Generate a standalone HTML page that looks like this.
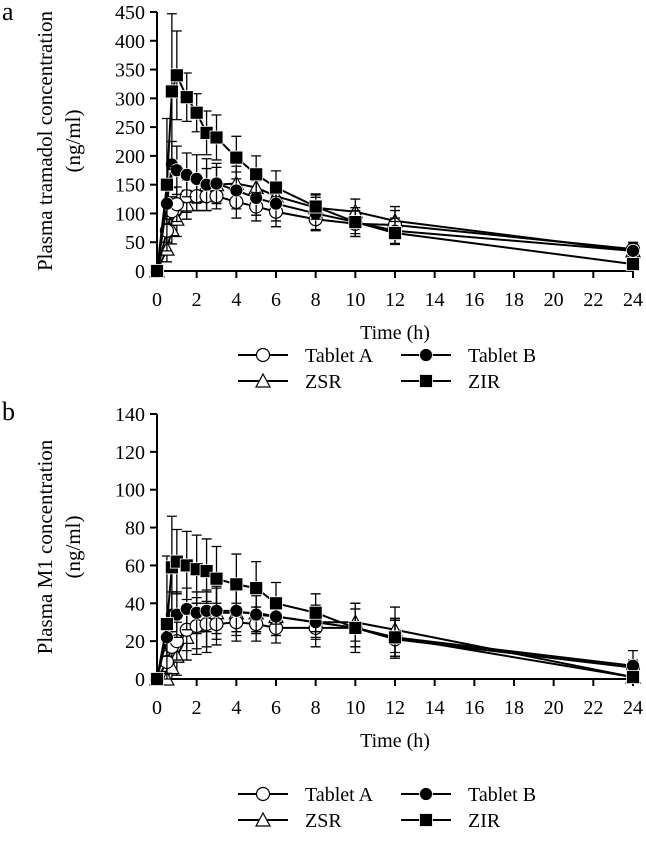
<!DOCTYPE html>
<html><head><meta charset="utf-8"><style>
body{margin:0;background:#fff;}
svg{display:block;font-family:"Liberation Serif",serif;}
</style></head><body>
<svg id="fig" width="646" height="855" viewBox="0 0 646 855"></svg>
<script>
const times=[0,0.5,0.75,1,1.5,2,2.5,3,4,5,6,8,10,12,24];
const xTicks=[0,2,4,6,8,10,12,14,16,18,20,22,24];
// Panel a: tramadol
const aTabA=[0,70,104,116,130,130,130,130,120,112,103,90,82,80,38];
const aTabB=[0,117,185,175,167,160,150,152,140,127,117,100,85,70,35];
const aZSR=[0,38,72,90,115,130,150,150,152,145,130,110,103,87,35];
const aZIR=[0,150,312,340,302,275,240,232,197,168,145,112,85,66,12];
const aSdA=[0,20,25,30,28,25,25,22,28,25,26,20,22,25,12];
const aSdB=[0,35,40,42,38,42,45,35,32,30,30,28,25,22,12];
const aSdZSR=[0,22,25,30,25,25,28,30,30,25,25,22,22,25,10];
const aSdZIR=[0,115,135,77,42,33,38,39,37,32,29,22,20,20,5];
const aYTicks=[0,50,100,150,200,250,300,350,400,450];
// Panel b: M1
const bTabA=[0,9,17,20,26,28,29,29,30,29,27,27,27,21,6];
const bTabB=[0,22,34,34,37,35,36,36,36,34,33,30,27,22,7];
const bZSR=[0,0,6,12,22,28,30,35,35,35,33,30,30,26,1];
const bZIR=[0,29,59,62,60,58,57,53,50,48,40,35,27,22,1];
const bSdA=[0,6,8,10,11,12,12,11,10,9,8,10,10,10,4];
const bSdB=[0,10,12,12,11,11,11,12,11,10,10,9,10,10,8];
const bSdZSR=[0,4,8,10,12,15,16,14,12,10,10,8,10,12,2];
const bSdZIR=[0,36,27,17,18,18,17,17,16,14,11,10,13,10,1];
const bYTicks=[0,20,40,60,80,100,120,140];

const NS="http://www.w3.org/2000/svg";
const svg=document.getElementById('fig');
function mk(t,a,p){const e=document.createElementNS(NS,t);for(const k in a)e.setAttribute(k,a[k]);(p||svg).appendChild(e);return e;}

function panel(cfg){
  const g=mk('g',{});
  
  
  const x0=157,x1=633;
  const X=t=>x0+(x1-x0)*t/24;
  const Y=v=>cfg.y0-(cfg.y0-cfg.yTop)*v/cfg.yMax;
  const ax=mk('path',{d:`M${x0},${cfg.yTop} V${cfg.y0} H${x1}`,stroke:'#000','stroke-width':2,fill:'none'},g);
  
  
  cfg.yTicks.forEach(v=>{
    mk('line',{x1:x0-7,x2:x0,y1:Y(v),y2:Y(v),stroke:'#000','stroke-width':2},g);
    const t=mk('text',{x:x0-12,y:Y(v)+7,'text-anchor':'end','font-size':20},g);
    t.textContent=v;
    
    
  });
  xTicks.forEach(v=>{
    mk('line',{x1:X(v),x2:X(v),y1:cfg.y0,y2:cfg.y0+7,stroke:'#000','stroke-width':2},g);
    const t=mk('text',{x:X(v),y:cfg.y0+35,'text-anchor':'middle','font-size':20},g);
    t.textContent=v;
    
    
  });
  const xt=mk('text',{x:395,y:cfg.y0+68,'text-anchor':'middle','font-size':20},g);
  xt.textContent='Time (h)';
  
  
  const yt=mk('text',{transform:`translate(52,${cfg.yTitleC}) rotate(-90)`,'text-anchor':'middle','font-size':21},g);
  yt.textContent=cfg.yTitle;
  
  
  const yt2=mk('text',{transform:`translate(80,${cfg.yTitleC}) rotate(-90)`,'text-anchor':'middle','font-size':21},g);
  yt2.textContent='(ng/ml)';
  
  
  const lt=mk('text',{x:2,y:cfg.letterY,'font-size':26},g);
  lt.textContent=cfg.letter;
  
  
  cfg.series.forEach(s=>{
    const sg=mk('g',{},g);
    
    
    s.v.forEach((v,i)=>{
      if(!s.sd[i])return;
      const xx=X(times[i]);
      const lo=Math.max(v-s.sd[i],0), hi=v+s.sd[i];
      mk('path',{d:`M${xx},${Y(lo)}V${Y(hi)}M${xx-5},${Y(hi)}h10M${xx-5},${Y(lo)}h10`,stroke:'#000','stroke-width':1.3,fill:'none'},sg);
    });
    mk('polyline',{points:s.v.map((v,i)=>X(times[i])+','+Y(v)).join(' '),fill:'none',stroke:'#000','stroke-width':2},sg);
    s.v.forEach((v,i)=>{
      const m=marker(s.type,X(times[i]),Y(v),sg);
      
      
    });
  });
  const lg=mk('g',{},g);
  
  
  const items=[['Tablet A','circ',238,cfg.legY],['Tablet B','dot',401,cfg.legY],['ZSR','tri',238,cfg.legY+26],['ZIR','sq',401,cfg.legY+26]];
  items.forEach(it=>{
    const e=mk('g',{},lg);
    
    
    mk('line',{x1:it[2],x2:it[2]+50,y1:it[3],y2:it[3],stroke:'#000','stroke-width':2},e);
    marker(it[1],it[2]+25,it[3],e);
    const t=mk('text',{x:it[2]+67,y:it[3]+7,'font-size':20},e);
    t.textContent=it[0];
  });
}
function marker(type,x,y,p){
  if(type==='circ')return mk('circle',{cx:x,cy:y,r:6.5,fill:'#fff',stroke:'#000','stroke-width':1.2},p);
  if(type==='dot')return mk('circle',{cx:x,cy:y,r:6.5,fill:'#000',stroke:'#fff','stroke-width':0.8},p);
  if(type==='tri')return mk('path',{d:`M${x},${y-7}L${x+7},${y+6}L${x-7},${y+6}Z`,fill:'#fff',stroke:'#000','stroke-width':1.2},p);
  return mk('rect',{x:x-6.5,y:y-6.5,width:13,height:13,fill:'#000',stroke:'#fff','stroke-width':0.8},p);
}
panel({name:'panel-a-tramadol',letter:'a',letterY:20,y0:271,yTop:12,yMax:450,yTicks:aYTicks,yTitle:'Plasma tramadol concentration',yTitleC:141,legY:355,
  series:[{key:'zsr',type:'tri',v:aZSR,sd:aSdZSR},{key:'tablet-a',type:'circ',v:aTabA,sd:aSdA},{key:'tablet-b',type:'dot',v:aTabB,sd:aSdB},{key:'zir',type:'sq',v:aZIR,sd:aSdZIR}]});
panel({name:'panel-b-m1',letter:'b',letterY:420,y0:679,yTop:414,yMax:140,yTicks:bYTicks,yTitle:'Plasma M1 concentration',yTitleC:547,legY:794,
  series:[{key:'zsr',type:'tri',v:bZSR,sd:bSdZSR},{key:'tablet-a',type:'circ',v:bTabA,sd:bSdA},{key:'tablet-b',type:'dot',v:bTabB,sd:bSdB},{key:'zir',type:'sq',v:bZIR,sd:bSdZIR}]});
</script>
</body></html>
